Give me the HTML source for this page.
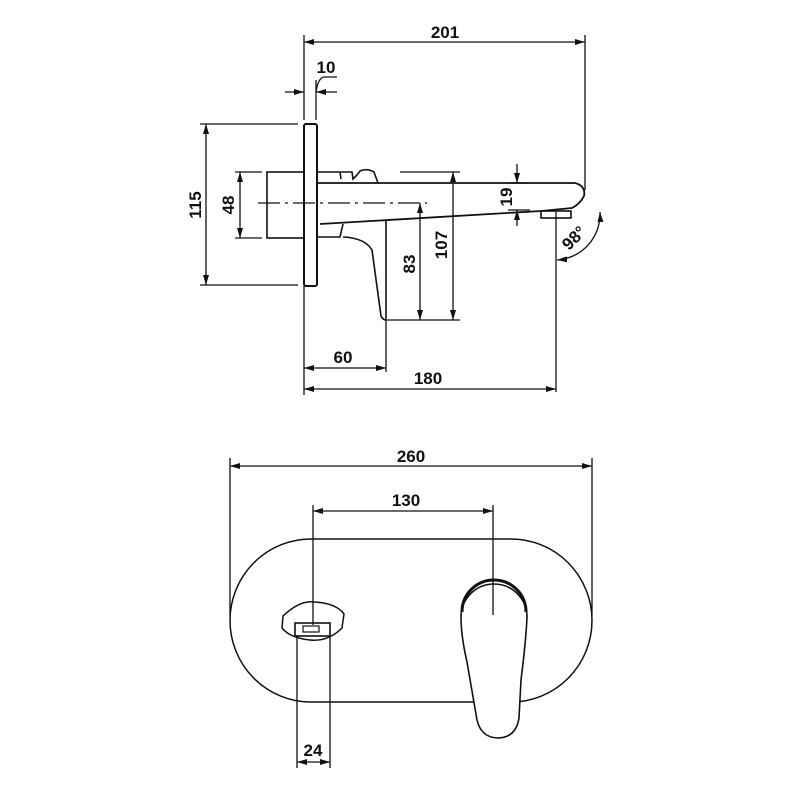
<!DOCTYPE html>
<html><head><style>body{margin:0;background:#fff}svg{display:block}text{font-family:"Liberation Sans",sans-serif;font-weight:bold;font-size:17px;fill:#111}</style></head>
<body>
<svg width="800" height="800" viewBox="0 0 800 800" xmlns="http://www.w3.org/2000/svg">
<defs><marker id="a" viewBox="0 0 10 6" refX="10" refY="3" markerWidth="10" markerHeight="6" orient="auto-start-reverse" markerUnits="userSpaceOnUse"><path d="M0,0 L10,3 L0,6z" fill="#111"/></marker></defs>
<g stroke="#111" stroke-width="1.3" fill="none">
<line x1="304" y1="35" x2="304" y2="120"/><line x1="585" y1="35" x2="585" y2="190"/>
<line x1="304" y1="42" x2="585" y2="42" marker-start="url(#a)" marker-end="url(#a)"/>
<line x1="316" y1="80" x2="316" y2="120"/>
<line x1="285" y1="92" x2="304" y2="92" marker-end="url(#a)"/><line x1="337" y1="92" x2="316" y2="92" marker-end="url(#a)"/>
<path d="M316,92 Q318,78 324,77 L337,77"/>
<rect x="304" y="124" width="13" height="162" rx="2" stroke-width="2"/>
<line x1="200" y1="124" x2="298" y2="124"/><line x1="200" y1="285" x2="298" y2="285"/>
<line x1="206" y1="124" x2="206" y2="285" marker-start="url(#a)" marker-end="url(#a)"/>
<rect x="267" y="172" width="37" height="66" stroke-width="1.6"/>
<line x1="235" y1="172" x2="262" y2="172"/><line x1="235" y1="238" x2="262" y2="238"/>
<line x1="240" y1="172" x2="240" y2="238" marker-start="url(#a)" marker-end="url(#a)"/>
<line x1="258" y1="203" x2="427" y2="203" stroke-dasharray="22,5,3,5"/>
<path d="M317,172 L340,172 L341,179 M340,172 L352,172 L353,179 L357,175 L360,171 Q367,168 374,172 L378,183" stroke-width="1.6"/>
<path d="M317,183 L575,183 Q586,186 584,196 Q580,204 572,208 L541,211 L320,224" stroke-width="1.8"/>
<rect x="541" y="211" width="30" height="7" stroke-width="1.6"/>
<path d="M317,237 L340,237 L343,224 M343,237 Q365,238 372,250 L381,316 Q383,320 386,320 L386,221" stroke-width="1.6"/>
<line x1="400" y1="172" x2="460" y2="172"/><line x1="387" y1="320" x2="460" y2="320"/>
<line x1="453" y1="172" x2="453" y2="320" marker-start="url(#a)" marker-end="url(#a)"/>
<line x1="420" y1="203" x2="420" y2="320" marker-start="url(#a)" marker-end="url(#a)"/>
<line x1="517" y1="164" x2="517" y2="183" marker-end="url(#a)"/><line x1="517" y1="226" x2="517" y2="210" marker-end="url(#a)"/>
<line x1="508" y1="183" x2="528" y2="183"/><line x1="508" y1="210" x2="530" y2="210"/>
<line x1="556" y1="212" x2="556" y2="392"/>
<path d="M600,212 A46,46 0 0 1 557,260" marker-start="url(#a)" marker-end="url(#a)"/>
<line x1="304" y1="286" x2="304" y2="395"/><line x1="386" y1="320" x2="386" y2="372"/>
<line x1="304" y1="368" x2="386" y2="368" marker-start="url(#a)" marker-end="url(#a)"/>
<line x1="304" y1="389" x2="556" y2="389" marker-start="url(#a)" marker-end="url(#a)"/>
<line x1="230" y1="458" x2="230" y2="615"/><line x1="592" y1="458" x2="592" y2="615"/>
<line x1="230" y1="466" x2="592" y2="466" marker-start="url(#a)" marker-end="url(#a)"/>
<line x1="313" y1="505" x2="313" y2="625"/>
<line x1="313" y1="511" x2="493" y2="511" marker-start="url(#a)" marker-end="url(#a)"/>
<path d="M474,702 L311,702 A81,81.5 0 0 1 311,539 L511,539 A81,81.5 0 0 1 511,702 L518,702" stroke-width="1.5"/>
<path d="M283,616 Q300,600 314,602 Q336,603 344,614 L342,628 Q328,642 310,640 Q290,638 282,628 Z" stroke-width="1.5"/>
<rect x="295" y="623" width="35" height="13" stroke-width="1.6"/>
<rect x="303" y="626" width="16" height="6" stroke-width="1.2"/>
<line x1="297" y1="635" x2="297" y2="768"/><line x1="330" y1="635" x2="330" y2="768"/>
<line x1="297" y1="762" x2="330" y2="762" marker-start="url(#a)" marker-end="url(#a)"/>
<path d="M461,617 A33,33 0 0 1 527,617 Q526,640 521,680 L519,718 Q516,738 497,738 Q481,737 477,720 L467,662 Q461,636 461,617 Z" stroke-width="1.6" fill="#fff"/>
<path d="M462,612 A32,32 0 0 1 526,612" stroke-width="3"/>
<line x1="493" y1="505" x2="493" y2="615"/>
</g>
<text x="445" y="38" text-anchor="middle">201</text>
<text x="326" y="73" text-anchor="middle">10</text>
<text transform="translate(201,205) rotate(-90)" text-anchor="middle">115</text>
<text transform="translate(234,205) rotate(-90)" text-anchor="middle">48</text>
<text transform="translate(415,264) rotate(-90)" text-anchor="middle">83</text>
<text transform="translate(447,245) rotate(-90)" text-anchor="middle">107</text>
<text transform="translate(512,197) rotate(-90)" text-anchor="middle">19</text>
<text transform="translate(578,242) rotate(-45)" text-anchor="middle">98°</text>
<text x="343" y="363" text-anchor="middle">60</text>
<text x="428" y="384" text-anchor="middle">180</text>
<text x="411" y="462" text-anchor="middle">260</text>
<text x="406" y="506" text-anchor="middle">130</text>
<text x="313" y="756" text-anchor="middle">24</text>
</svg>
</body></html>
